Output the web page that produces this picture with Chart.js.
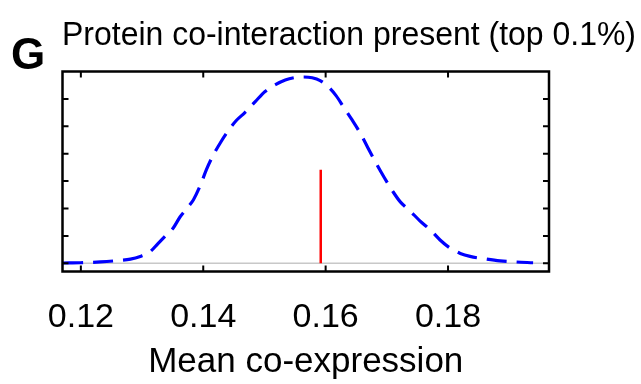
<!DOCTYPE html>
<html>
<head>
  <title>Mean co-expression</title>
  <script src="https://cdn.jsdelivr.net/npm/chart.js"></script>
  <style>
    body {
      margin: 0;
      background-color: #fff;
    }

    .chart-container {
      position: relative;
      width: 641px;
      height: 384px;
    }
  </style>
</head>
<body>
<div class="chart-container">
  <canvas id="densityChart"></canvas>
</div>

<script>
  // density curve (x = mean co-expression, y = density)
  const curveX = [0.1171, 0.1199, 0.1232, 0.1261, 0.1281, 0.1297, 0.1313, 0.1326, 0.1339, 0.1351,
                  0.1362, 0.1374, 0.1384, 0.1395, 0.1405, 0.1415, 0.1428, 0.1441, 0.1454, 0.1468,
                  0.1485, 0.1501, 0.1518, 0.1534, 0.1550, 0.1563, 0.1578, 0.1591, 0.1604, 0.1617,
                  0.1630, 0.1643, 0.1656, 0.1669, 0.1682, 0.1696, 0.1709, 0.1722, 0.1738, 0.1754,
                  0.1771, 0.1787, 0.1803, 0.1820, 0.1836, 0.1861, 0.1885, 0.1910, 0.1939];
  const curveY = [0.01, 0.02, 0.05, 0.10, 0.15, 0.25, 0.42, 0.72, 1.02, 1.29,
                  1.69, 2.02, 2.32, 2.83, 3.41, 3.89, 4.40, 4.84, 5.21, 5.50,
                  5.90, 6.27, 6.52, 6.69, 6.78, 6.80, 6.77, 6.67, 6.45, 6.12,
                  5.68, 5.24, 4.77, 4.22, 3.67, 3.12, 2.65, 2.24, 1.91, 1.55,
                  1.22, 0.85, 0.56, 0.36, 0.25, 0.16, 0.09, 0.05, 0.02];

  // observed value (red marker)
  const observedX = [0.1592, 0.1592];
  const observedY = [0, 3.41];

  const xTicks = [0.12, 0.14, 0.16, 0.18];
  const yTicks = [0, 1, 2, 3, 4, 5, 6];
  const xRange = [0.117, 0.1965];
  const yRange = [-0.3, 7];

  const titleText = 'Protein co-interaction present (top 0.1%)';
  const panelLetter = 'G';
  const xTitle = 'Mean co-expression';

  Chart.defaults.font.family = "'Liberation Sans', Arial, sans-serif";
  Chart.defaults.color = '#000';

  // gray zero line under the curves
  const zeroLine = {
    id: 'zeroLine',
    beforeDatasetsDraw(chart) {
      const {ctx, chartArea, scales} = chart;
      const y = scales.y.getPixelForValue(0);
      ctx.save();
      ctx.strokeStyle = '#c8c8c8';
      ctx.lineWidth = 1.5;
      ctx.beginPath();
      ctx.moveTo(chartArea.left, y);
      ctx.lineTo(chartArea.right, y);
      ctx.stroke();
      ctx.restore();
    }
  };

  // box with inward ticks, plus the headings
  const frame = {
    id: 'frame',
    afterDraw(chart) {
      const {ctx, chartArea, scales} = chart;
      const {left, right, top, bottom} = chartArea;
      const len = 6;
      ctx.save();
      ctx.strokeStyle = '#000';
      ctx.lineWidth = 2;
      ctx.beginPath();
      xTicks.forEach(v => {
        const x = scales.x.getPixelForValue(v);
        ctx.moveTo(x, bottom); ctx.lineTo(x, bottom - len);
        ctx.moveTo(x, top); ctx.lineTo(x, top + len);
      });
      yTicks.forEach(v => {
        const y = scales.y.getPixelForValue(v);
        ctx.moveTo(left, y); ctx.lineTo(left + len, y);
        ctx.moveTo(right, y); ctx.lineTo(right - len, y);
      });
      ctx.stroke();
      ctx.lineWidth = 2.5;
      ctx.strokeRect(left, top, right - left, bottom - top);

      ctx.fillStyle = '#000';
      ctx.textBaseline = 'alphabetic';
      ctx.textAlign = 'left';
      // title is a little condensed in the original, squeeze to its width
      ctx.font = "34px 'Liberation Sans', Arial, sans-serif";
      const w = ctx.measureText(titleText).width;
      ctx.save();
      ctx.translate(62, 45);
      ctx.scale(574 / w, 1);
      ctx.fillText(titleText, 0, 0);
      ctx.restore();
      ctx.font = "bold 44px 'Liberation Sans', Arial, sans-serif";
      ctx.fillText(panelLetter, 11, 69);
      ctx.restore();
    }
  };

  new Chart(document.getElementById('densityChart'), {
    type: 'line',
    data: {
      datasets: [
        {
          data: curveX.map((x, i) => ({x: x, y: curveY[i]})),
          borderColor: '#0000ff',
          borderWidth: 3.2,
          borderDash: [20, 10],
          pointRadius: 0,
          tension: 0.4,
          cubicInterpolationMode: 'monotone',
          fill: false
        },
        {
          data: observedX.map((x, i) => ({x: x, y: observedY[i]})),
          borderColor: '#ff0000',
          borderWidth: 2.5,
          pointRadius: 0,
          fill: false
        }
      ]
    },
    options: {
      responsive: true,
      maintainAspectRatio: false,
      animation: false,
      layout: {
        padding: {left: 62.5, right: 92, top: 71.5, bottom: 1}
      },
      plugins: {
        legend: {display: false},
        tooltip: {enabled: false}
      },
      scales: {
        x: {
          type: 'linear',
          min: xRange[0],
          max: xRange[1],
          grid: {display: false, drawTicks: false},
          border: {display: false},
          afterBuildTicks: s => { s.ticks = xTicks.map(v => ({value: v})); },
          afterFit: s => { s.height = 111.5; },
          ticks: {
            padding: 26,
            maxRotation: 0,
            font: {size: 34},
            callback: v => v.toFixed(2)
          },
          title: {
            display: true,
            text: xTitle,
            font: {size: 35},
            padding: {top: 5, bottom: 0}
          }
        },
        y: {
          type: 'linear',
          display: false,
          min: yRange[0],
          max: yRange[1]
        }
      }
    },
    plugins: [zeroLine, frame]
  });
</script>
</body>
</html>
